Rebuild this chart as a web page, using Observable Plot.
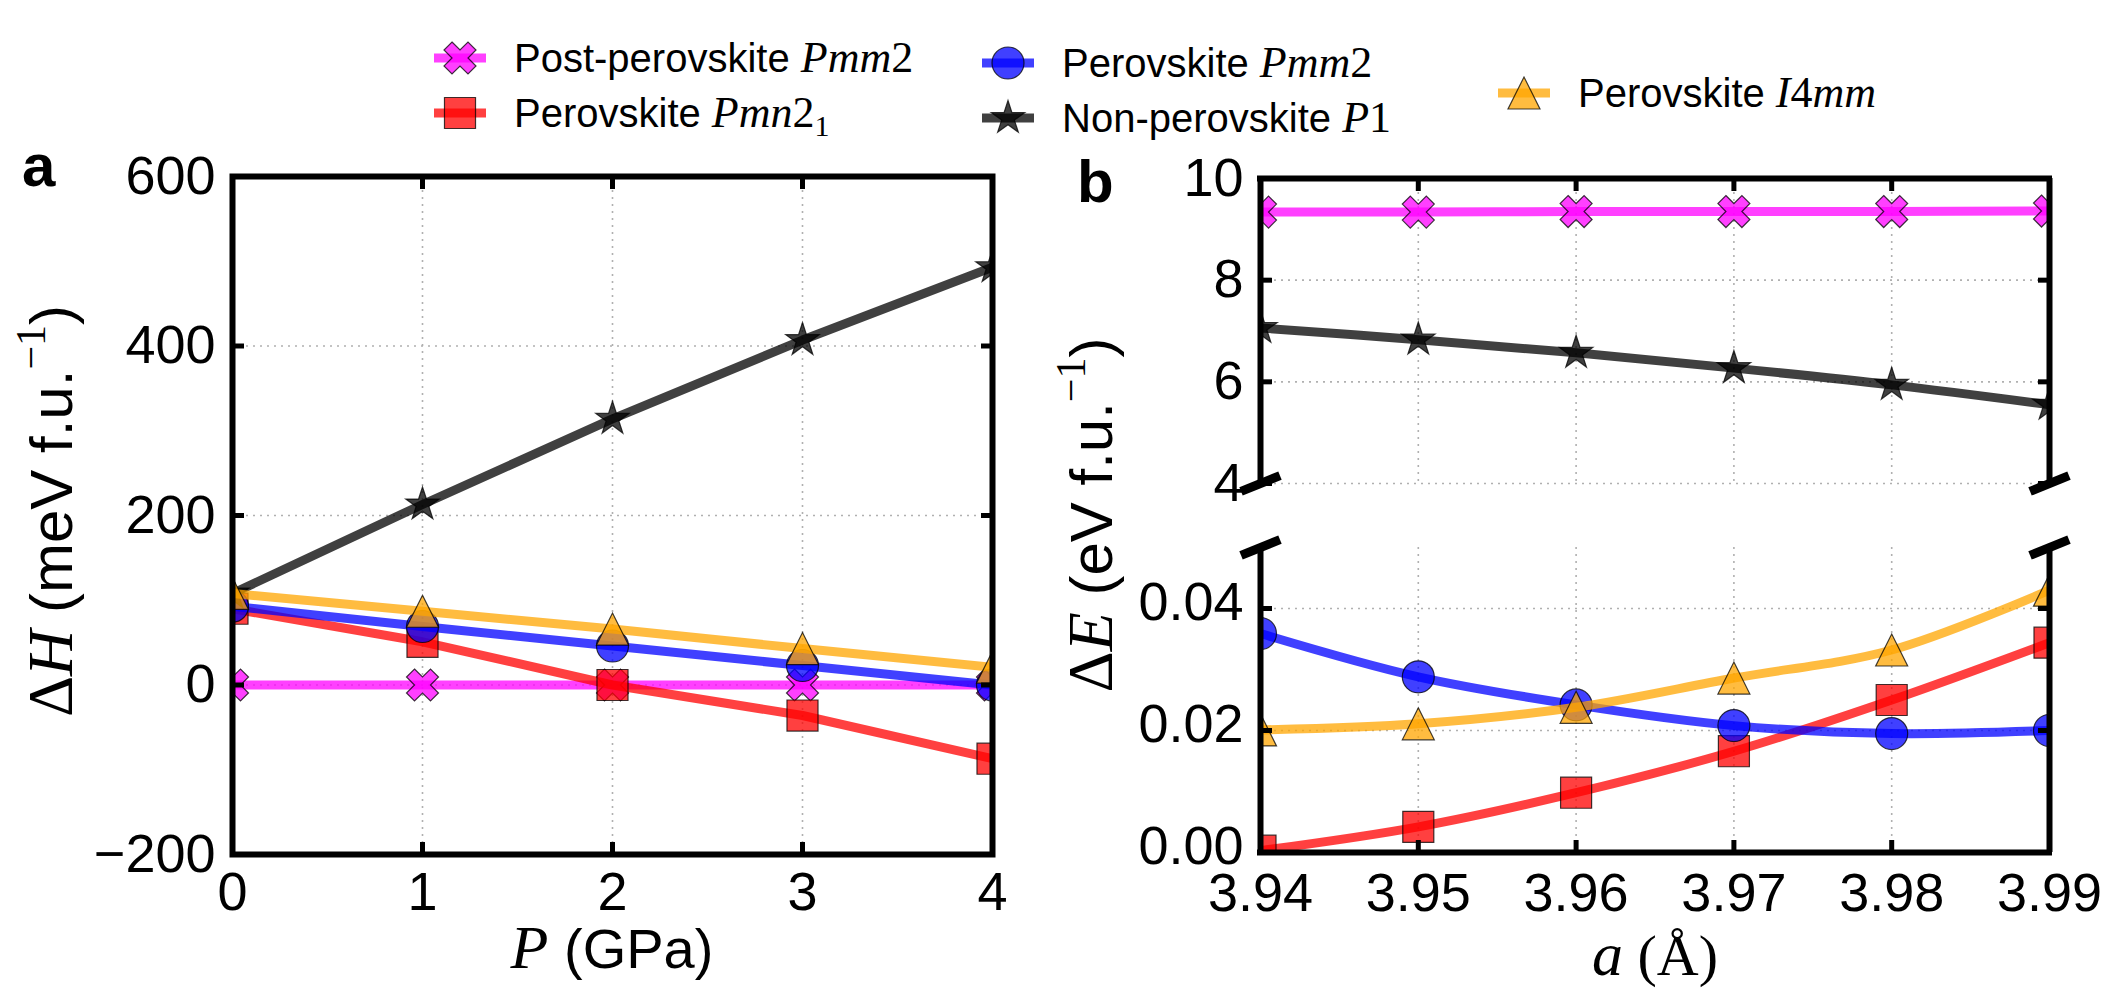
<!DOCTYPE html>
<html><head><meta charset="utf-8">
<script src="https://cdn.jsdelivr.net/npm/d3@7"></script>
<script src="https://cdn.jsdelivr.net/npm/@observablehq/plot@0.6"></script>
<style>
body{margin:0;background:#fff;}
#fig{position:relative;width:2126px;height:1004px;overflow:hidden;background:#fff;}
#fig svg{position:absolute;}
</style></head><body><div id="fig"></div>
<script>
// ---------- data ----------
const pressureGPa = [0, 1, 2, 3, 4];
const latticeA = [3.94, 3.95, 3.96, 3.97, 3.98, 3.99];
const seriesColors = ["#ff00ff", "#ff0000", "#0000ff", "#000000", "#ffa500"];
// panel a: ΔH (meV f.u.^-1) vs P (GPa)
const dH_postPmm2 = [0, 0, 0, 0, 0];
const dH_Pmn21 = [90, 51, 0, -36, -87];
const dH_Pmm2 = [93, 69, 46, 23, 0];
const dH_P1 = [108, 213, 314, 407, 493];
const dH_I4mm = [108, 87, 66, 43, 21];
// panel b upper: ΔE (eV f.u.^-1) vs a (Å)
const dE_postPmm2 = [9.34, 9.34, 9.35, 9.35, 9.35, 9.36];
const dE_P1 = [7.06, 6.83, 6.57, 6.27, 5.94, 5.55];
// panel b lower
const dE_Pmn21 = [0.0003, 0.0042, 0.0098, 0.0166, 0.0250, 0.0344];
const dE_Pmm2 = [0.0359, 0.0288, 0.0242, 0.0208, 0.0195, 0.0200];
const dE_I4mm = [0.0201, 0.0211, 0.0238, 0.0286, 0.0332, 0.0430];
// ticks / domains
const xDomainA = [0, 4];
const yDomainA = [-200, 600];
const yTicksA = [-200, 0, 200, 400, 600];
const xDomainB = [3.94, 3.99];
const yDomainBUpper = [4, 10];
const yTicksBUpper = [4, 6, 8, 10];
const yDomainBLower = [0, 0.05];
const yTicksBLower = [0, 0.02, 0.04];

const SANS = "'Liberation Sans', Arial, Helvetica, sans-serif";
const SERIF = "'Liberation Serif', 'Times New Roman', serif";

// ---------- matplotlib-like marker symbols ----------
const R = (s) => Math.sqrt(s / Math.PI);
function poly(c, pts) { pts.forEach(([x, y], i) => i ? c.lineTo(x, y) : c.moveTo(x, y)); c.closePath(); }
const sym = {
  circle: {draw(c, s) { const r = R(s); c.moveTo(r, 0); c.arc(0, 0, r, 0, 2 * Math.PI); c.closePath(); }},
  square: {draw(c, s) { const r = R(s) * 0.97; c.rect(-r, -r, 2 * r, 2 * r); }},
  triangle: {draw(c, s) { const r = R(s); poly(c, [[0, -r], [r, r], [-r, r]]); }},
  star: {draw(c, s) { const r = R(s) * 1.1, ri = r * 0.381966; const pts = [];
    for (let i = 0; i < 10; i++) { const a = -Math.PI / 2 + i * Math.PI / 5, rr = i % 2 ? ri : r; pts.push([rr * Math.cos(a), rr * Math.sin(a)]); }
    poly(c, pts); }},
  xfill: {draw(c, s) { const r = R(s) / 2;
    poly(c, [[-1,-2],[0,-1],[1,-2],[2,-1],[1,0],[2,1],[1,2],[0,1],[-1,2],[-2,1],[-1,0],[-2,-1]].map(([x, y]) => [x * r, y * r])); }}
};
const breakSym = {draw(c) { const L = 21, T = 4.5, a = -22 * Math.PI / 180, ca = Math.cos(a), sa = Math.sin(a);
  poly(c, [[-L,-T],[L,-T],[L,T],[-L,T]].map(([x, y]) => [x * ca - y * sa, x * sa + y * ca])); }};
const seriesSymbols = [sym.xfill, sym.square, sym.circle, sym.star, sym.triangle];
const MR = 16; // marker radius
const LW = 9;  // line width

function seriesMarks(xs, ys, idx, curve) {
  const data = xs.map((x, i) => ({x, y: ys[i]}));
  return [
    Plot.line(data, {x: "x", y: "y", stroke: seriesColors[idx], strokeOpacity: 0.75, strokeWidth: LW, curve, clip: true}),
    Plot.dot(data, {x: "x", y: "y", symbol: seriesSymbols[idx], r: MR, fill: seriesColors[idx], fillOpacity: 0.75,
      stroke: "#000", strokeWidth: 1.2, strokeOpacity: 0.75, clip: true})
  ];
}
const gridStyle = {stroke: "#b0b0b0", strokeOpacity: 1, strokeWidth: 1.6, strokeDasharray: "2,5"};
const tickStyle = {tickSize: -12, strokeWidth: 5, stroke: "#000", fill: "none", label: null};
const plotStyle = {fontFamily: SANS, fontSize: "54px", color: "#000", background: "transparent", overflow: "visible"};

// ---------- panel a ----------
const plotA = Plot.plot({
  width: 1050, height: 1004,
  marginLeft: 232, marginRight: 58, marginTop: 176, marginBottom: 150,
  x: {domain: xDomainA}, y: {domain: yDomainA},
  style: plotStyle,
  marks: [
    Plot.gridX(pressureGPa, gridStyle),
    Plot.gridY(yTicksA, gridStyle),
    ...seriesMarks(pressureGPa, dH_postPmm2, 0),
    ...seriesMarks(pressureGPa, dH_Pmn21, 1),
    ...seriesMarks(pressureGPa, dH_Pmm2, 2),
    ...seriesMarks(pressureGPa, dH_P1, 3),
    ...seriesMarks(pressureGPa, dH_I4mm, 4),
    Plot.frame({stroke: "#000", strokeWidth: 6}),
    Plot.axisX(pressureGPa, {anchor: "bottom", ...tickStyle}),
    Plot.axisX(pressureGPa, {anchor: "top", ...tickStyle}),
    Plot.axisY(yTicksA, {anchor: "left", ...tickStyle}),
    Plot.axisY(yTicksA, {anchor: "right", ...tickStyle}),
    Plot.axisX(pressureGPa, {anchor: "bottom", tickSize: 0, tickPadding: 17, fontSize: 54, label: null, tickFormat: d3.format("d")}),
    Plot.axisY(yTicksA, {anchor: "left", tickSize: 0, tickPadding: 17, fontSize: 54, label: null, tickFormat: d3.format("d")})
  ]
});
plotA.style.left = "0px"; plotA.style.top = "0px";

// ---------- panel b upper ----------
const plotBU = Plot.plot({
  width: 1076, height: 520,
  marginLeft: 210, marginRight: 77, marginTop: 178, marginBottom: 37,
  x: {domain: xDomainB}, y: {domain: yDomainBUpper},
  style: plotStyle,
  marks: [
    Plot.gridX(latticeA, gridStyle),
    Plot.gridY(yTicksBUpper, gridStyle),
    ...seriesMarks(latticeA, dE_postPmm2, 0, "catmull-rom"),
    ...seriesMarks(latticeA, dE_P1, 3, "catmull-rom"),
    Plot.ruleX(xDomainB, {stroke: "#000", strokeWidth: 6}),
    Plot.ruleY([yDomainBUpper[1]], {stroke: "#000", strokeWidth: 6, x1: xDomainB[0], x2: xDomainB[1], insetLeft: -3, insetRight: -3}),
    Plot.axisX(latticeA, {anchor: "top", ...tickStyle}),
    Plot.axisY(yTicksBUpper, {anchor: "left", ...tickStyle}),
    Plot.axisY(yTicksBUpper, {anchor: "right", ...tickStyle}),
    Plot.axisY(yTicksBUpper, {anchor: "left", tickSize: 0, tickPadding: 17, fontSize: 54, label: null, tickFormat: d3.format("d")}),
    Plot.dot(xDomainB.map(x => ({x, y: yDomainBUpper[0]})), {x: "x", y: "y", symbol: breakSym, r: 1, fill: "#000", stroke: "none"})
  ]
});
plotBU.style.left = "1050px"; plotBU.style.top = "0px";

// ---------- panel b lower ----------
const plotBL = Plot.plot({
  width: 1076, height: 484,
  marginLeft: 210, marginRight: 77, marginTop: 27, marginBottom: 152,
  x: {domain: xDomainB}, y: {domain: yDomainBLower},
  style: plotStyle,
  marks: [
    Plot.gridX(latticeA, gridStyle),
    Plot.gridY(yTicksBLower, gridStyle),
    ...seriesMarks(latticeA, dE_Pmn21, 1, "catmull-rom"),
    ...seriesMarks(latticeA, dE_Pmm2, 2, "catmull-rom"),
    ...seriesMarks(latticeA, dE_I4mm, 4, "catmull-rom"),
    Plot.ruleX(xDomainB, {stroke: "#000", strokeWidth: 6}),
    Plot.ruleY([yDomainBLower[0]], {stroke: "#000", strokeWidth: 6, x1: xDomainB[0], x2: xDomainB[1], insetLeft: -3, insetRight: -3}),
    Plot.axisX(latticeA, {anchor: "bottom", ...tickStyle}),
    Plot.axisY(yTicksBLower, {anchor: "left", ...tickStyle}),
    Plot.axisY(yTicksBLower, {anchor: "right", ...tickStyle}),
    Plot.axisX(latticeA, {anchor: "bottom", tickSize: 0, tickPadding: 20, fontSize: 54, label: null, tickFormat: d3.format(".2f")}),
    Plot.axisY(yTicksBLower, {anchor: "left", tickSize: 0, tickPadding: 17, fontSize: 54, label: null, tickFormat: d3.format(".2f"), dy: -6}),
    Plot.dot(xDomainB.map(x => ({x, y: yDomainBLower[1]})), {x: "x", y: "y", symbol: breakSym, r: 1, fill: "#000", stroke: "none"})
  ]
});
plotBL.style.left = "1050px"; plotBL.style.top = "520px";

const fig = document.getElementById("fig");
fig.append(plotA, plotBU, plotBL);

// ---------- overlay: panel letters, axis titles, legend ----------
const ov = d3.select(fig).append("svg").attr("width", 2126).attr("height", 1004)
  .style("left", "0px").style("top", "0px").style("overflow", "visible");

function rich(parent, parts, attrs) {
  const t = parent.append("text").attr("font-family", SANS).attr("fill", "#000");
  Object.entries(attrs).forEach(([k, v]) => t.attr(k, v));
  parts.forEach(p => {
    const s = t.append("tspan").text(p.t);
    if (p.f === "serif") s.attr("font-family", SERIF);
    if (p.f === "serifI") s.attr("font-family", SERIF).attr("font-style", "italic");
    if (p.size) s.attr("font-size", p.size);
    if (p.dy) s.attr("dy", p.dy);
  });
  return t;
}

// panel letters
rich(ov, [{t: "a"}], {x: 22, y: 186, "font-size": 60, "font-weight": "bold"});
rich(ov, [{t: "b"}], {x: 1077, y: 202, "font-size": 60, "font-weight": "bold"});

// axis titles
rich(ov, [{t: "P", f: "serifI", size: 62}, {t: " (GPa)"}], {x: 612, y: 968, "font-size": 56, "text-anchor": "middle"});
rich(ov, [{t: "a", f: "serifI", size: 62}, {t: " (Å)", f: "serif", size: 58}], {x: 1655, y: 975, "font-size": 56, "text-anchor": "middle"});
rich(ov, [{t: "Δ", f: "serif", size: 64}, {t: "H", f: "serifI", size: 64}, {t: " (meV f.u."},
          {t: "−1", f: "serif", size: 42, dy: -27}, {t: ")", dy: 27}],
     {transform: "translate(72,511) rotate(-90)", "font-size": 60, "text-anchor": "middle"});
rich(ov, [{t: "Δ", f: "serif", size: 64}, {t: "E", f: "serifI", size: 64}, {t: " (eV f.u."},
          {t: "−1", f: "serif", size: 42, dy: -27}, {t: ")", dy: 27}],
     {transform: "translate(1112,515) rotate(-90)", "font-size": 60, "text-anchor": "middle"});

// legend
const legendLabels = [
  [{t: "Post-perovskite "}, {t: "Pmm", f: "serifI", size: 44}, {t: "2", f: "serif", size: 44}],
  [{t: "Perovskite "}, {t: "Pmn", f: "serifI", size: 44}, {t: "2", f: "serif", size: 44}, {t: "1", f: "serif", size: 30, dy: 9}],
  [{t: "Perovskite "}, {t: "Pmm", f: "serifI", size: 44}, {t: "2", f: "serif", size: 44}],
  [{t: "Non-perovskite "}, {t: "P", f: "serifI", size: 44}, {t: "1", f: "serif", size: 44}],
  [{t: "Perovskite "}, {t: "I", f: "serifI", size: 44}, {t: "4", f: "serif", size: 44}, {t: "mm", f: "serifI", size: 44}]
];
const legendPos = [[460, 58], [460, 113], [1008, 63], [1008, 118], [1524, 93]];
legendLabels.forEach((parts, i) => {
  const [cx, cy] = legendPos[i];
  const g = ov.append("g");
  g.append("line").attr("x1", cx - 26).attr("x2", cx + 26).attr("y1", cy).attr("y2", cy)
    .attr("stroke", seriesColors[i]).attr("stroke-opacity", 0.75).attr("stroke-width", LW);
  const p = d3.path(); seriesSymbols[i].draw(p, Math.PI * MR * MR);
  g.append("path").attr("d", p.toString()).attr("transform", `translate(${cx},${cy})`)
    .attr("fill", seriesColors[i]).attr("fill-opacity", 0.75).attr("stroke", "#000").attr("stroke-opacity", 0.75).attr("stroke-width", 1.2);
  rich(g, parts, {x: cx + 54, y: cy + 14, "font-size": 40});
});
</script></body></html>
